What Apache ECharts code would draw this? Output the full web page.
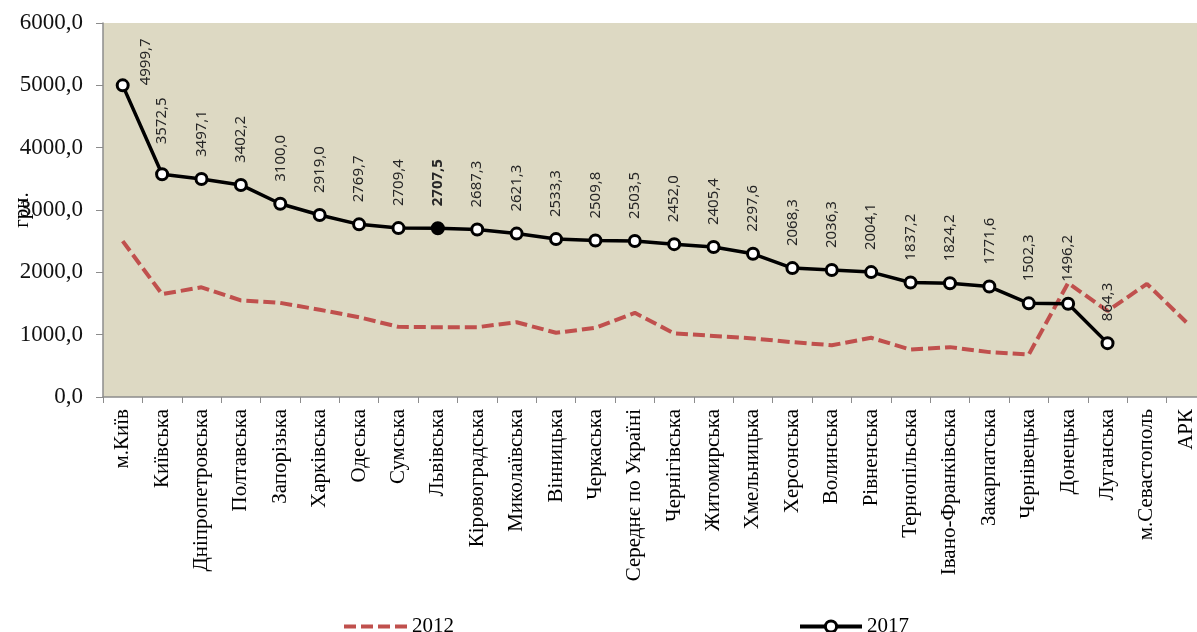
<!DOCTYPE html>
<html>
<head>
<meta charset="utf-8">
<script src="https://cdn.jsdelivr.net/npm/echarts@6/dist/echarts.min.js"></script>
<style>
  html, body { margin: 0; padding: 0; background: #fff; }
  #chart { width: 1197px; height: 632px; }
</style>
</head>
<body>
<div id="chart"></div>
<script>
// області
var regions = [
  "м.Київ", "Київська", "Дніпропетровська", "Полтавська", "Запорізька",
  "Харківська", "Одеська", "Сумська", "Львівська", "Кіровоградська",
  "Миколаївська", "Вінницька", "Черкаська", "Середнє по Україні", "Чернігівська",
  "Житомирська", "Хмельницька", "Херсонська", "Волинська", "Рівненська",
  "Тернопільська", "Івано-Франківська", "Закарпатська", "Чернівецька", "Донецька",
  "Луганська", "м.Севастополь", "АРК"
];

var values2012 = [
  2500, 1650, 1760, 1550, 1510, 1400, 1280, 1125, 1120, 1120,
  1200, 1030, 1110, 1350, 1020, 980, 940, 880, 830, 950,
  760, 800, 720, 680, 1830, 1380, 1815, 1200
];

// 2017
var values2017 = [
  4999.7, 3572.5, 3497.1, 3402.2, 3100.0, 2919.0, 2769.7, 2709.4, 2707.5, 2687.3,
  2621.3, 2533.3, 2509.8, 2503.5, 2452.0, 2405.4, 2297.6, 2068.3, 2036.3, 2004.1,
  1837.2, 1824.2, 1771.6, 1502.3, 1496.2, 864.3, null, null
];

var yTicks = [0, 1000, 2000, 3000, 4000, 5000, 6000];
var highlightIndex = 8; // Львівська

function fmt(v) {
  return Number(v).toFixed(1).replace(".", ",");
}

var myChart = echarts.init(document.getElementById("chart"));

var data2017 = values2017.map(function (v, i) {
  var item = { value: v };
  if (i === 0) {
    item.label = { position: "right", distance: 16 };
  } else if (i === 1) {
    item.label = { distance: 11, offset: [12, 0] };
  } else if (i === highlightIndex) {
    item.itemStyle = { color: "#000" };
    item.label = { fontWeight: "bold" };
  }
  return item;
});

var legendText = { fontFamily: "Liberation Serif", fontSize: 21, color: "#000" };

var option = {
  backgroundColor: "#fff",
  animation: false,
  grid: {
    left: 103,
    top: 23,
    width: 1103,
    height: 374,
    outerBoundsMode: "none",
    containLabel: false,
    show: true,
    backgroundColor: "#DDD9C3",
    borderWidth: 0
  },
  legend: [
    {
      data: ["2012"],
      left: 337,
      top: 611,
      itemWidth: 63,
      itemHeight: 14,
      itemStyle: { color: "transparent", borderWidth: 0 },
      lineStyle: { width: 4 },
      textStyle: legendText
    },
    {
      data: ["2017"],
      left: 793,
      top: 611,
      itemWidth: 62,
      itemHeight: 14,
      itemStyle: { borderWidth: 3 },
      lineStyle: { width: 4 },
      textStyle: legendText
    }
  ],
  xAxis: {
    type: "category",
    data: regions,
    boundaryGap: true,
    axisLine: { show: true, lineStyle: { color: "#8c8c8c", width: 1.5 } },
    axisTick: { show: true, interval: 0, length: 6, lineStyle: { color: "#8c8c8c" } },
    axisLabel: {
      interval: 0,
      rotate: 90,
      margin: 12,
      fontFamily: "Liberation Serif",
      fontSize: 21,
      color: "#000"
    },
    splitLine: { show: false }
  },
  yAxis: {
    type: "value",
    min: yTicks[0],
    max: yTicks[yTicks.length - 1],
    interval: 1000,
    name: "грн.",
    nameLocation: "middle",
    nameRotate: 90,
    nameGap: 70,
    nameMoveOverlap: false,
    nameTextStyle: {
      fontFamily: "Liberation Serif",
      fontSize: 21,
      color: "#000",
      backgroundColor: "#fff",
      padding: [0, 1]
    },
    axisLine: { show: true, lineStyle: { color: "#8c8c8c", width: 1.5 } },
    axisTick: { show: true, length: 7, lineStyle: { color: "#8c8c8c" } },
    axisLabel: {
      margin: 20,
      fontFamily: "Liberation Serif",
      fontSize: 23,
      color: "#111",
      formatter: function (v) { return fmt(v); }
    },
    splitLine: { show: false }
  },
  series: [
    {
      name: "2012",
      type: "line",
      data: values2012,
      symbol: "none",
      z: 2,
      lineStyle: { color: "#C0504D", width: 4, type: [12, 5] },
      itemStyle: { color: "#C0504D" }
    },
    {
      name: "2017",
      type: "line",
      data: data2017,
      symbol: "circle",
      symbolSize: 11,
      z: 3,
      lineStyle: { color: "#000", width: 3.5 },
      itemStyle: { color: "#fff", borderColor: "#000", borderWidth: 3 },
      label: {
        show: true,
        position: "top",
        distance: 15,
        rotate: 90,
        align: "left",
        verticalAlign: "middle",
        fontFamily: "Noto Sans",
        fontSize: 15,
        color: "#262626",
        formatter: function (p) { return fmt(p.value); }
      }
    }
  ]
};

myChart.setOption(option);
</script>
</body>
</html>
